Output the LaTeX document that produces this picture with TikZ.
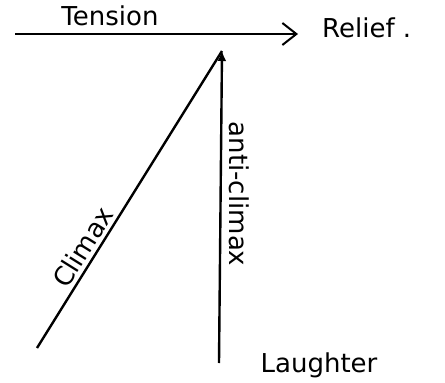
\documentclass[tikz,border=0pt]{standalone}
\usepackage{fontspec}
\setmainfont{DejaVu Sans}
\usetikzlibrary{arrows.meta}
\begin{document}
\begin{tikzpicture}[
            x=1pt,
            y=-1pt,
            lbl/.style={inner sep=0pt, font=\fontsize{26}{28}\selectfont},
            stroke/.style={draw=black, line width=2.4pt},
            tensarrow/.style={stroke, line width=1.8pt, -{Straight Barb[length=14pt, width=22pt, line width=2pt]}},
            uparrow/.style={stroke, -{Latex[length=10pt, width=9pt]}}
        ]
        \useasboundingbox (0,0) rectangle (445,383);
        \coordinate (tstart) at (15,34);
        \coordinate (tend) at (298,34);
        \coordinate (apex) at (222,51);
        \coordinate (cbase) at (37,348);
        \coordinate (abase) at (219,363);
        \node[lbl, anchor=base] (tension) at (110,25) {Tension};
        \node[lbl, anchor=base west] (relief) at (322,37) {Relief .};
        \node[lbl, anchor=base] (laughter) at (319,372) {Laughter};
        \draw[tensarrow] (tstart) -- (tend);
        \draw[stroke] (cbase) -- (apex);
        \draw[uparrow] (abase) -- (apex);
        \node[lbl, anchor=base, rotate=58] (climax) at (91,252) {Climax};
        \node[lbl, anchor=base, rotate=-90] (anticlimax) at (229,194) {anti-climax};
    \end{tikzpicture}
\end{document}
